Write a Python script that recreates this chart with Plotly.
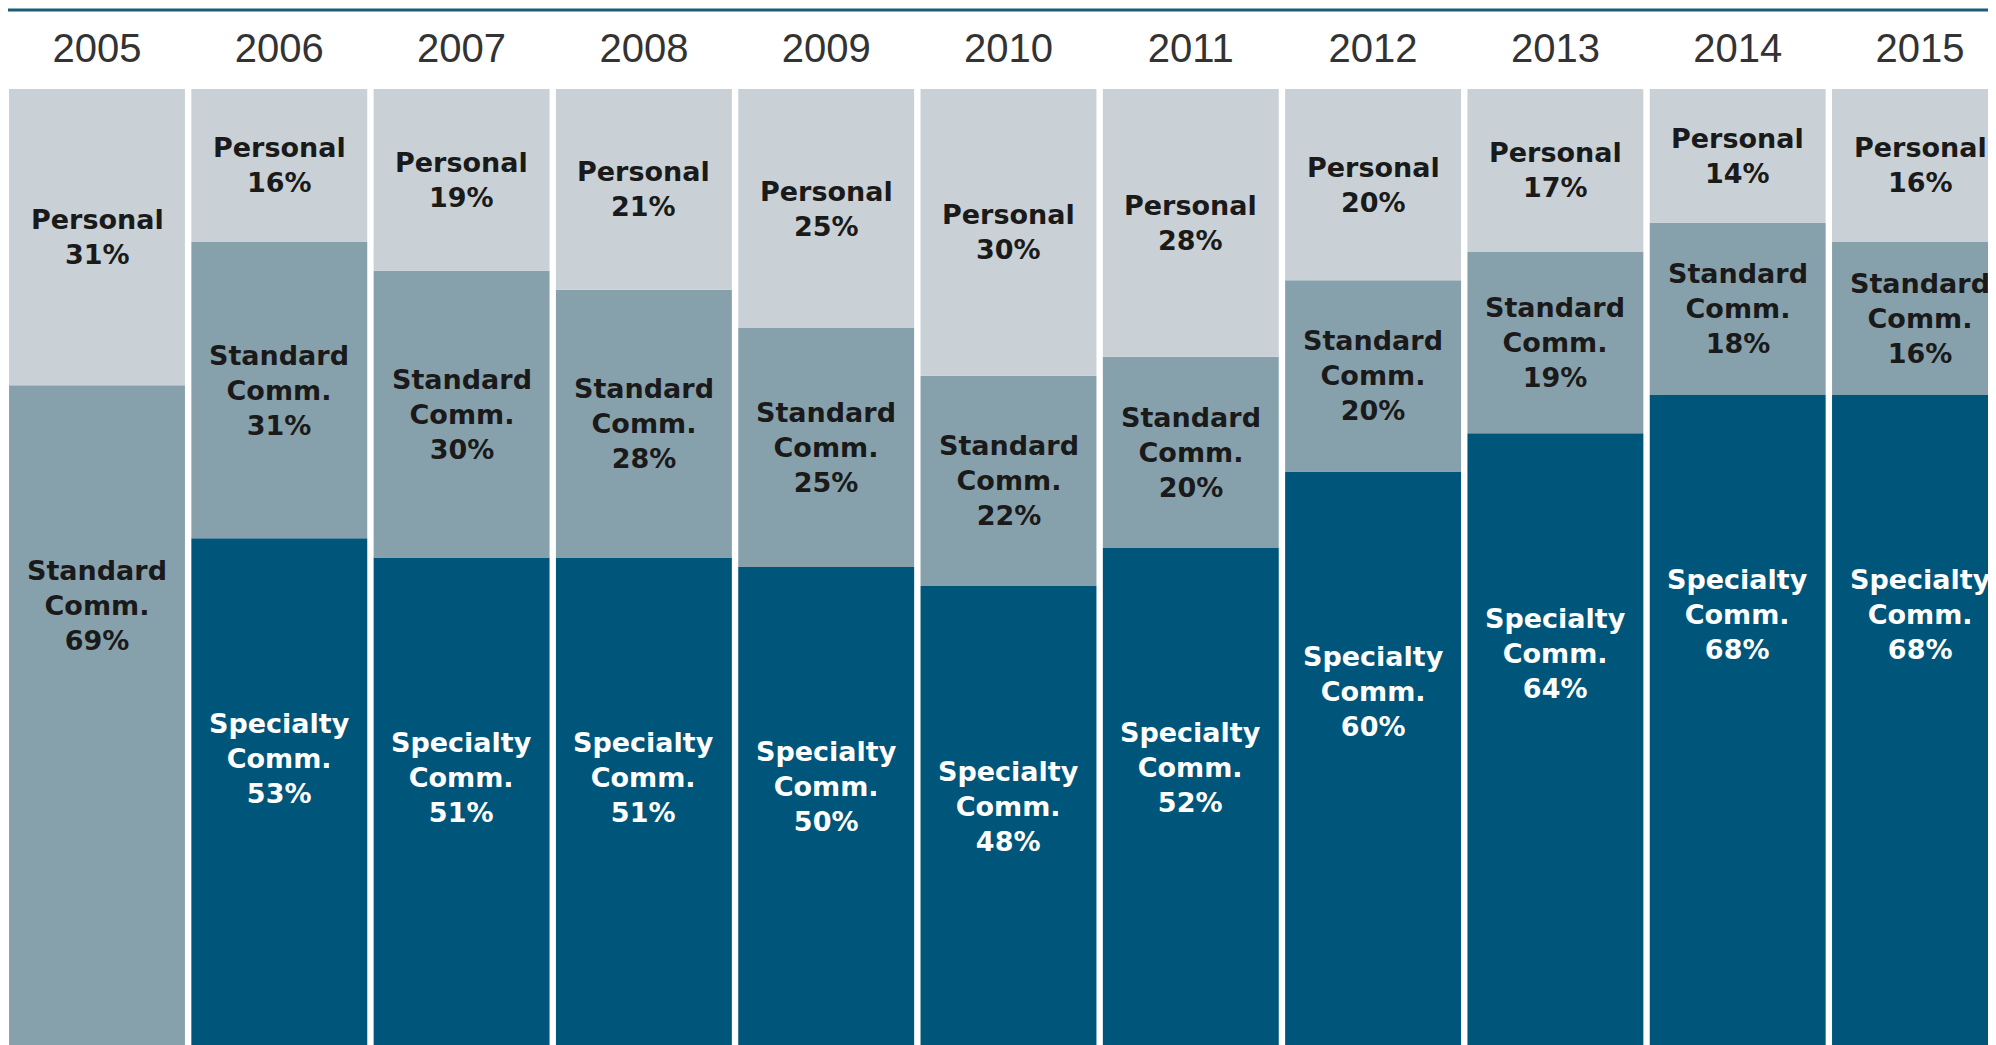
import plotly.graph_objects as go

years = [2005, 2006, 2007, 2008, 2009, 2010, 2011, 2012, 2013, 2014, 2015]
specialty = [0, 53, 51, 51, 50, 48, 52, 60, 64, 68, 68]
standard = [69, 31, 30, 28, 25, 22, 20, 20, 19, 18, 16]
personal = [31, 16, 19, 21, 25, 30, 28, 20, 17, 14, 16]

series = [
    ("Specialty<br>Comm.", specialty, "#00567a", "#ffffff"),
    ("Standard<br>Comm.", standard, "#87a1ac", "#1a1a1a"),
    ("Personal", personal, "#c9d1d6", "#1a1a1a"),
]

W, H = 1996, 1045
TOP, BOT = 81, 8
plot_h = H - TOP - BOT
pitch_px = 182.3
first_center_px = 89
span = W / pitch_px
x0 = years[0] - first_center_px / pitch_px
x1 = x0 + span

fig = go.Figure()
annotations = []
base = [0] * len(years)
for name, vals, color, tcolor in series:
    fig.add_trace(go.Bar(
        x=years, y=vals, base=base[:], name=name,
        marker=dict(color=color, line=dict(width=0)),
        width=0.965, hoverinfo="skip", showlegend=False,
    ))
    for i, v in enumerate(vals):
        if v <= 0:
            continue
        top = base[i] + v
        ylab = top - min(v / 2.0, 23)
        annotations.append(dict(
            x=years[i], y=ylab, xref="x", yref="y",
            text=f"{name}<br>{v}%", showarrow=False,
            font=dict(family="DejaVu Sans", size=27, color=tcolor, weight="bold"),
            align="center", xanchor="center", yanchor="middle",
        ))
    base = [b + v for b, v in zip(base, vals)]

fig.update_layout(
    width=W, height=H,
    barmode="overlay",
    plot_bgcolor="white", paper_bgcolor="white",
    margin=dict(l=0, r=0, t=TOP, b=BOT, pad=0),
    annotations=annotations,
    xaxis=dict(
        range=[x0, x1], side="top", tickvals=years,
        ticktext=[str(y) for y in years], ticks="", showgrid=False,
        zeroline=False, showline=False,
        tickfont=dict(family="Liberation Sans", size=40, color="#333333"),
        ticklabelstandoff=18,
    ),
    yaxis=dict(range=[0, 100], visible=False, showgrid=False, zeroline=False),
    shapes=[dict(
        type="line", xref="paper", yref="paper",
        x0=0, x1=1, y0=1 + (TOP - 2) / plot_h, y1=1 + (TOP - 2) / plot_h,
        line=dict(color="#1d5c78", width=3),
    )],
)

fig.write_html("out.html")
